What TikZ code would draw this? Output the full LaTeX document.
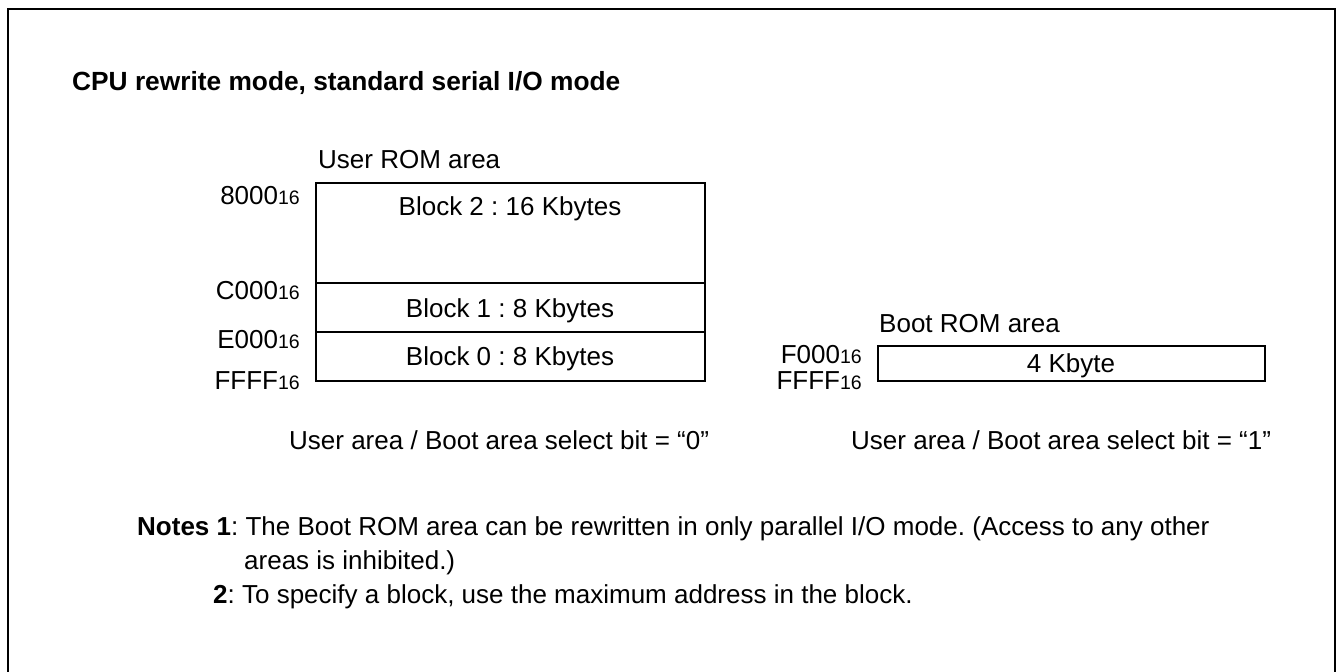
\documentclass[tikz,border=0pt]{standalone}
\usepackage{fontspec}
\setmainfont{Liberation Sans}
\newcommand{\sixteen}{{\fontsize{19.5}{22}\selectfont 16}}
\begin{document}
\frenchspacing
\begin{tikzpicture}[x=1pt,y=-1pt,
  txt/.style={inner sep=0pt,font=\fontsize{26}{30}\selectfont},
  lbl/.style={txt,anchor=base west},
  addr/.style={txt,anchor=base east},
  mem/.style={draw,line width=1.3pt},
  frame/.style={draw,line width=2.2pt}]
\useasboundingbox (0,0) rectangle (1339,672);
% outer frame (open at bottom)
\draw[frame] (8,680) -- (8,9) -- (1335,9) -- (1335,680);
% title
\node[anchor=base west,inner sep=0pt,font=\fontsize{26.3}{30}\selectfont\bfseries] (title) at (72,90) {CPU rewrite mode, standard serial I/O mode};
% user ROM
\node[lbl] (urom) at (318,168) {User ROM area};
\draw[mem] (316,183) rectangle (705,381);
\coordinate (l1a) at (316,283); \coordinate (l1b) at (705,283);
\coordinate (l2a) at (316,332); \coordinate (l2b) at (705,332);
\draw[mem] (l1a) -- (l1b);
\draw[mem] (l2a) -- (l2b);
\node[txt,anchor=base] (b2) at (510,215) {Block 2 : 16 Kbytes};
\node[txt,anchor=base] (b1) at (510,317) {Block 1 : 8 Kbytes};
\node[txt,anchor=base] (b0) at (510,365) {Block 0 : 8 Kbytes};
\node[addr] (a8) at (300,204) {8000\sixteen};
\node[addr] (ac) at (300,299) {C000\sixteen};
\node[addr] (ae) at (300,348) {E000\sixteen};
\node[addr] (af) at (300,389) {FFFF\sixteen};
% boot ROM
\node[lbl] (brom) at (879,332) {Boot ROM area};
\draw[mem] (878,346) rectangle (1265,381);
\node[txt,anchor=base] (kb) at (1071,372) {4 Kbyte};
\node[addr] (bf0) at (862,363) {F000\sixteen};
\node[addr] (bff) at (862,389) {FFFF\sixteen};
% select bit captions
\node[lbl] (s0) at (289,449) {User area / Boot area select bit = “0”};
\node[lbl] (s1) at (851,449) {User area / Boot area select bit = “1”};
% notes
\node[lbl] (n1) at (137,535) {\textbf{Notes 1}: The Boot ROM area can be rewritten in only parallel I/O mode. (Access to any other};
\node[lbl] (n1b) at (244,569) {areas is inhibited.)};
\node[lbl] (n2) at (213,603) {\textbf{2}: To specify a block, use the maximum address in the block.};
\end{tikzpicture}
\end{document}
